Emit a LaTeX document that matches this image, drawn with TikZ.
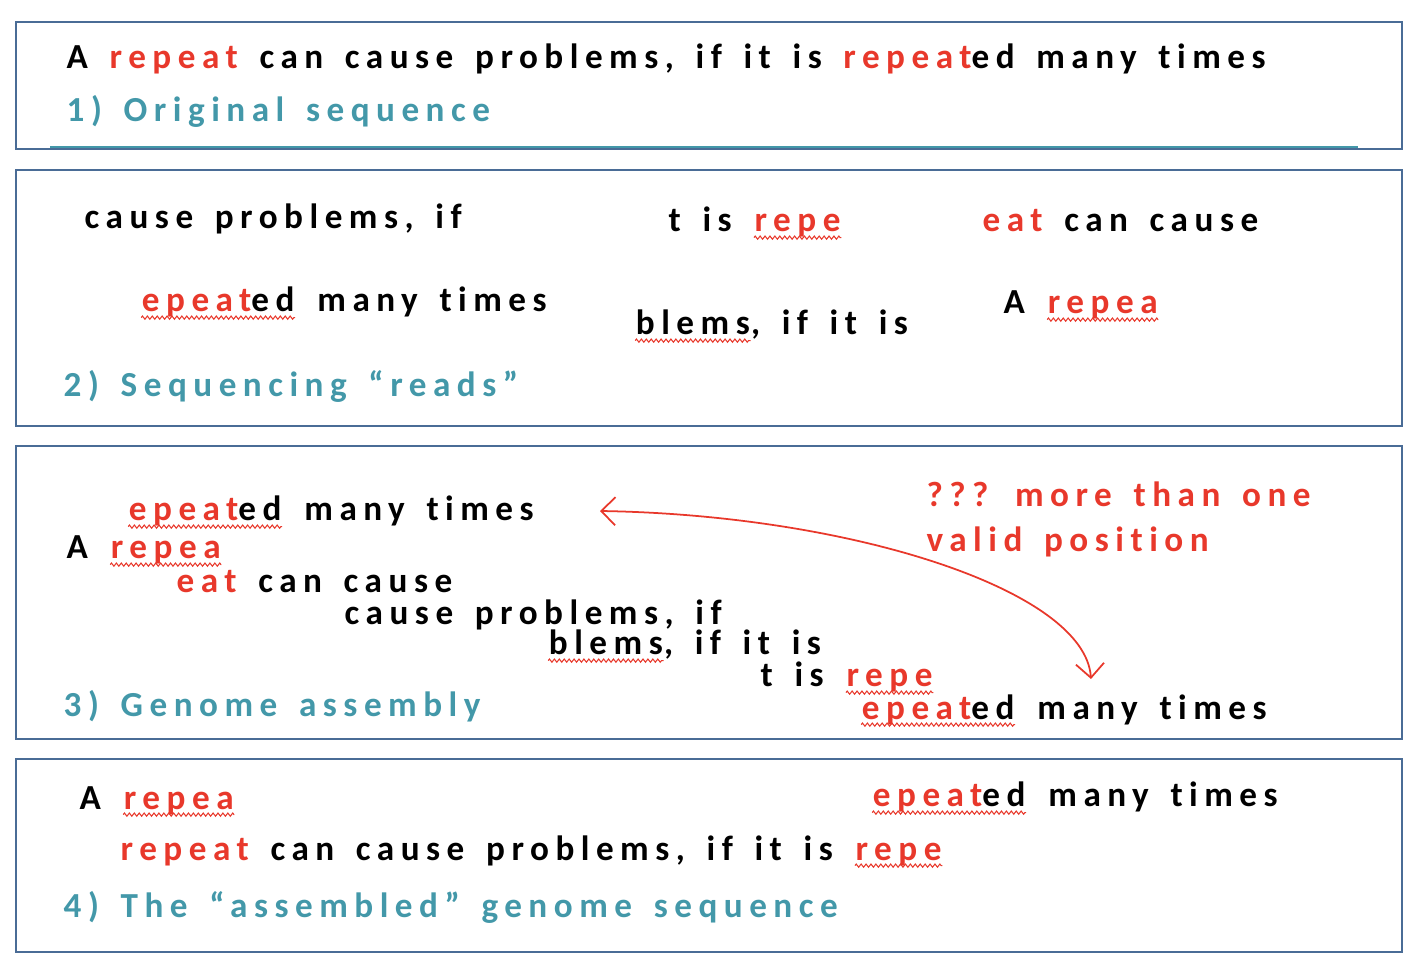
\documentclass[tikz,border=0pt]{standalone}
\usepackage{fontspec}
\setmainfont{Carlito}[LetterSpace=18.5, WordSpace=1.5, Ligatures=NoCommon]
\usetikzlibrary{arrows.meta,decorations.pathmorphing}

\definecolor{panelblue}{HTML}{4A6C96}
\definecolor{seqred}{HTML}{E8382B}
\definecolor{stepteal}{HTML}{4398A9}

\newcommand\rd[1]{\textcolor{seqred}{#1}}
\newcommand\seqsize{\fontsize{10}{12}\selectfont}

\tikzset{
  panel/.style={draw=panelblue, line width=0.6pt},
  seq/.style={anchor=base west, inner sep=0pt, font=\seqsize\bfseries},
  caption/.style={seq, text=stepteal},
  squiggle/.style={draw=seqred, line width=0.3pt, decorate,
    decoration={zigzag, segment length=1.4pt, amplitude=0.45pt}},
  biarrow/.style={seqred, line width=0.5pt,
    {Straight Barb[length=4pt,width=8pt]}-{Straight Barb[length=4pt,width=8pt]}}
}
% spell-check style wavy underline
\newcommand\wavy[1]{\tikz[baseline=(wv.base)]{\node[inner sep=0pt] (wv) {#1};
  \draw[squiggle] ([yshift=-1.6pt]wv.base west) -- ([yshift=-1.6pt]wv.base east);}}

\begin{document}
\begin{tikzpicture}[x=0.01cm,y=-0.01cm]
\useasboundingbox (0,0) rectangle (1420,970);
% Panels
\draw[panel] (16,22) rectangle (1402,149);
\draw[panel] (16,170) rectangle (1402,426);
\draw[panel] (16,446) rectangle (1402,739);
\draw[panel] (16,759) rectangle (1402,952);
\draw[stepteal, line width=0.6pt] (50,147) -- (1358,147);

% 1) original sequence
\node[seq] (orig) at (66,69) {A \rd{repeat} can cause problems, if it is \rd{repeat}ed many times};
\node[caption] (cap1) at (66,122) {1) Original sequence};

% 2) reads
\node[seq] (rdA) at (84,229) {cause problems, if};
\node[seq] (rdB) at (668,232) {t is \wavy{\rd{repe}}};
\node[seq] (rdC) at (982,232) {\rd{eat} can cause};
\node[seq] (rdD) at (140,312) {\wavy{\rd{epeat}ed} many times};
\node[seq] (rdE) at (634,335) {\wavy{blems}, if it is};
\node[seq] (rdF) at (1003,314) {A \wavy{\rd{repea}}};
\node[caption] (cap2) at (63,397) {2) Sequencing “reads”};

% 3) assembly
\node[seq] (asmA) at (127,521) {\wavy{\rd{epeat}ed} many times};
\node[seq] (asmB) at (66,559) {A \wavy{\rd{repea}}};
\node[seq] (asmC) at (176,593) {\rd{eat} can cause};
\node[seq] (asmD) at (344,624) {cause problems, if};
\node[seq] (asmE) at (547,655) {\wavy{blems}, if it is};
\node[seq] (asmF) at (760,687) {t is \wavy{\rd{repe}}};
\node[seq] (asmG) at (860,719) {\wavy{\rd{epeat}ed} many times};
\node[caption] (cap3) at (63,716) {3) Genome assembly};
\node[seq, text=seqred] (warn1) at (926,507) {??? more than one};
\node[seq, text=seqred] (warn2) at (926,551) {valid position};
\coordinate (arrL) at (600,511);
\coordinate (arrR) at (1091,679);
\draw[biarrow] (arrL) .. controls (850,515) and (1085,590) .. (arrR);

% 4) assembled genome
\node[seq] (gnA) at (79,809) {A \wavy{\rd{repea}}};
\node[seq] (gnB) at (871,807) {\wavy{\rd{epeat}ed} many times};
\node[seq] (gnC) at (120,860) {\rd{repeat} can cause problems, if it is \wavy{\rd{repe}}};
\node[caption] (cap4) at (63,917) {4) The “assembled” genome sequence};
\end{tikzpicture}
\end{document}
